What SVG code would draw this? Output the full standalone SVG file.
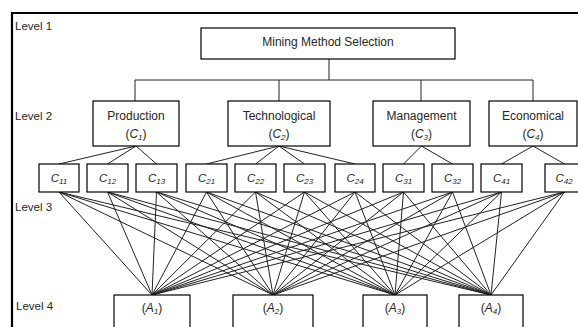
<svg xmlns="http://www.w3.org/2000/svg" width="578" height="327" viewBox="0 0 578 327">
<style>
.box{fill:#fff;stroke:#000;stroke-width:1.2}
.t{font-family:"Liberation Sans",Arial,sans-serif;font-size:12px;fill:#262626;text-anchor:middle}
.lv{font-family:"Liberation Sans",Arial,sans-serif;font-size:11.5px;fill:#262626}
.ci{font-family:"Liberation Sans",Arial,sans-serif;font-size:11.5px;font-style:italic;fill:#262626;text-anchor:middle}
.sub{font-size:8px}
.conn line,.conn path{stroke:#222;stroke-width:1;fill:none}
</style>
<rect x="0" y="0" width="578" height="327" fill="#fff"/>
<path d="M12,330 V13 H580" fill="none" stroke="#000" stroke-width="2.2"/>
<text class="lv" x="15" y="30">Level 1</text>
<text class="lv" x="15" y="120">Level 2</text>
<text class="lv" x="15" y="211">Level 3</text>
<text class="lv" x="16" y="310">Level 4</text>
<g id="connectors" class="conn">
<path d="M329,59 V80 M135,80 H533 M135,80 V101 M279,80 V101 M421,80 V101 M533,80 V101"/>
<line x1="136" y1="146" x2="59" y2="164"/>
<line x1="136" y1="146" x2="107.5" y2="164"/>
<line x1="136" y1="146" x2="156.5" y2="164"/>
<line x1="279" y1="146" x2="206.5" y2="164"/>
<line x1="279" y1="146" x2="255.5" y2="164"/>
<line x1="279" y1="146" x2="304.5" y2="164"/>
<line x1="279" y1="146" x2="355" y2="164"/>
<line x1="421.5" y1="146" x2="403.5" y2="164"/>
<line x1="421.5" y1="146" x2="452.5" y2="164"/>
<line x1="533" y1="146" x2="501.5" y2="164"/>
<line x1="533" y1="146" x2="564.5" y2="164"/>
<path d="M59,192 L152,295 M59,192 L273,295 M59,192 L395,295 M59,192 L491,295
M107.5,192 L152,295 M107.5,192 L273,295 M107.5,192 L395,295 M107.5,192 L491,295
M156.5,192 L152,295 M156.5,192 L273,295 M156.5,192 L395,295 M156.5,192 L491,295
M206.5,192 L152,295 M206.5,192 L273,295 M206.5,192 L395,295 M206.5,192 L491,295
M255.5,192 L152,295 M255.5,192 L273,295 M255.5,192 L395,295 M255.5,192 L491,295
M304.5,192 L152,295 M304.5,192 L273,295 M304.5,192 L395,295 M304.5,192 L491,295
M355,192 L152,295 M355,192 L273,295 M355,192 L395,295 M355,192 L491,295
M403.5,192 L152,295 M403.5,192 L273,295 M403.5,192 L395,295 M403.5,192 L491,295
M452.5,192 L152,295 M452.5,192 L273,295 M452.5,192 L395,295 M452.5,192 L491,295
M501.5,192 L152,295 M501.5,192 L273,295 M501.5,192 L395,295 M501.5,192 L491,295
M564.5,192 L152,295 M564.5,192 L273,295 M564.5,192 L395,295 M564.5,192 L491,295"/>
</g>
<g id="goal"><rect class="box" x="201" y="28" width="254" height="31"/><text class="t" x="328" y="46">Mining Method Selection</text></g>
<g id="c1"><rect class="box" x="93" y="101" width="86" height="45"/><text class="t" x="136" y="120">Production</text><text class="t" x="136" y="138">(<tspan font-style="italic">C</tspan><tspan class="sub" font-style="italic" dy="2">1</tspan><tspan dy="-2">)</tspan></text></g>
<g id="c2"><rect class="box" x="228" y="101" width="102" height="45"/><text class="t" x="279" y="120">Technological</text><text class="t" x="279" y="138">(<tspan font-style="italic">C</tspan><tspan class="sub" font-style="italic" dy="2">2</tspan><tspan dy="-2">)</tspan></text></g>
<g id="c3"><rect class="box" x="373" y="101" width="97" height="45"/><text class="t" x="421.5" y="120">Management</text><text class="t" x="421.5" y="138">(<tspan font-style="italic">C</tspan><tspan class="sub" font-style="italic" dy="2">3</tspan><tspan dy="-2">)</tspan></text></g>
<g id="c4"><rect class="box" x="489" y="101" width="88" height="45"/><text class="t" x="533" y="120">Economical</text><text class="t" x="533" y="138">(<tspan font-style="italic">C</tspan><tspan class="sub" font-style="italic" dy="2">4</tspan><tspan dy="-2">)</tspan></text></g>
<g id="c11"><rect class="box" x="39" y="164" width="40" height="28"/><text class="ci" x="59" y="182">C<tspan class="sub" dy="2">11</tspan></text></g>
<g id="c12"><rect class="box" x="87" y="164" width="41" height="28"/><text class="ci" x="107.5" y="182">C<tspan class="sub" dy="2">12</tspan></text></g>
<g id="c13"><rect class="box" x="136" y="164" width="41" height="28"/><text class="ci" x="156.5" y="182">C<tspan class="sub" dy="2">13</tspan></text></g>
<g id="c21"><rect class="box" x="186" y="164" width="41" height="28"/><text class="ci" x="206.5" y="182">C<tspan class="sub" dy="2">21</tspan></text></g>
<g id="c22"><rect class="box" x="235" y="164" width="41" height="28"/><text class="ci" x="255.5" y="182">C<tspan class="sub" dy="2">22</tspan></text></g>
<g id="c23"><rect class="box" x="284" y="164" width="41" height="28"/><text class="ci" x="304.5" y="182">C<tspan class="sub" dy="2">23</tspan></text></g>
<g id="c24"><rect class="box" x="335" y="164" width="40" height="28"/><text class="ci" x="355" y="182" fill="#1f3a7a">C<tspan class="sub" dy="2">24</tspan></text></g>
<g id="c31"><rect class="box" x="383" y="164" width="41" height="28"/><text class="ci" x="403.5" y="182">C<tspan class="sub" dy="2">31</tspan></text></g>
<g id="c32"><rect class="box" x="432" y="164" width="41" height="28"/><text class="ci" x="452.5" y="182">C<tspan class="sub" dy="2">32</tspan></text></g>
<g id="c41"><rect class="box" x="481" y="164" width="41" height="28"/><text class="ci" x="501.5" y="182">C<tspan class="sub" dy="2">41</tspan></text></g>
<g id="c42"><rect class="box" x="545" y="164" width="40" height="28"/><text class="ci" x="564" y="182">C<tspan class="sub" dy="2">42</tspan></text></g>
<g id="a1"><rect class="box" x="114" y="295" width="76" height="34"/><text class="t" x="152" y="312">(<tspan font-style="italic">A</tspan><tspan class="sub" font-style="italic" dy="2">1</tspan><tspan dy="-2">)</tspan></text></g>
<g id="a2"><rect class="box" x="233" y="295" width="80" height="34"/><text class="t" x="273" y="312">(<tspan font-style="italic">A</tspan><tspan class="sub" font-style="italic" dy="2">2</tspan><tspan dy="-2">)</tspan></text></g>
<g id="a3"><rect class="box" x="363" y="295" width="64" height="34"/><text class="t" x="395" y="312">(<tspan font-style="italic">A</tspan><tspan class="sub" font-style="italic" dy="2">3</tspan><tspan dy="-2">)</tspan></text></g>
<g id="a4"><rect class="box" x="459" y="295" width="64" height="34"/><text class="t" x="491" y="312">(<tspan font-style="italic">A</tspan><tspan class="sub" font-style="italic" dy="2">4</tspan><tspan dy="-2">)</tspan></text></g>
</svg>
